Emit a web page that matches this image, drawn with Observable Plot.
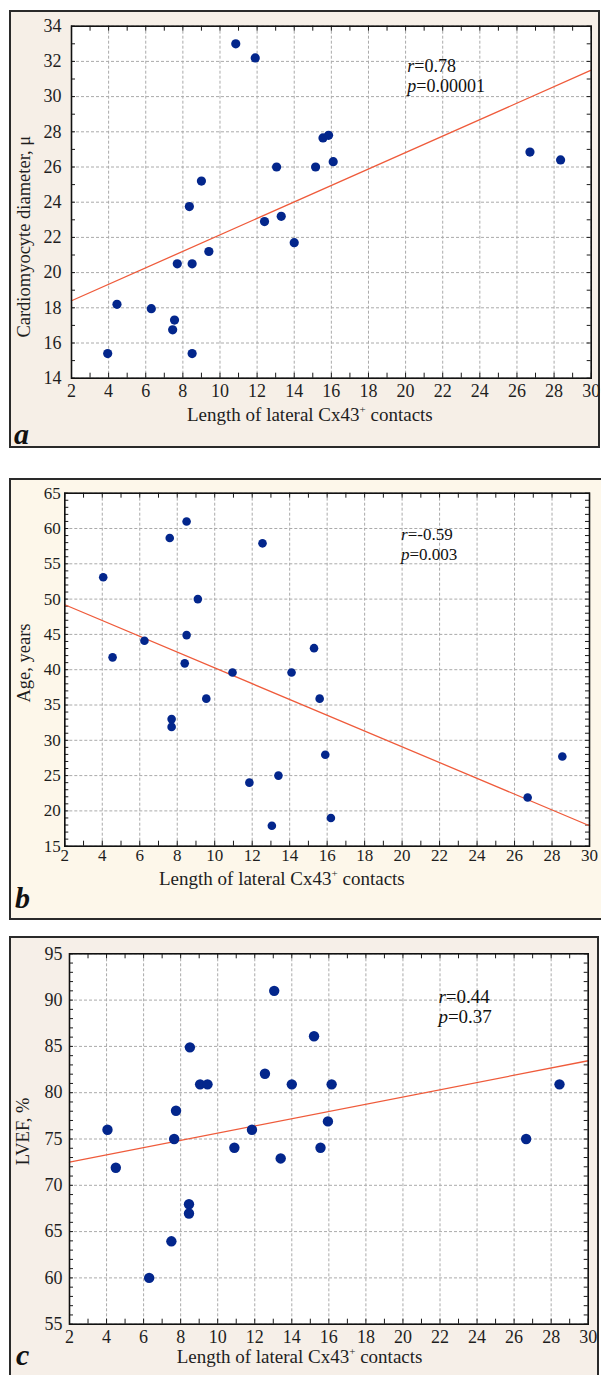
<!DOCTYPE html>
<html><head><meta charset="utf-8">
<script src="https://cdn.jsdelivr.net/npm/d3@7"></script>
<script src="https://cdn.jsdelivr.net/npm/@observablehq/plot@0.6"></script>
<style>
body{margin:0;background:#fff;}
#page{position:relative;width:601px;height:1375px;overflow:hidden;background:#fff;}
.frame{position:absolute;box-sizing:border-box;border:2px solid #2a2a2a;}
.plot{position:absolute;left:0;}
</style></head><body><div id="page"></div>
<script>
// ---------- data ----------
const xTicks = [2,4,6,8,10,12,14,16,18,20,22,24,26,28,30];
const xLabel = "Length of lateral Cx43";

// panel a
const lengthA = [10.85, 11.9, 13.05, 9.0, 8.35, 13.3, 12.4, 9.4, 7.7, 8.5, 14.0, 4.45, 6.3, 7.55, 7.45, 3.95, 8.5, 15.55, 15.85, 15.15, 16.1, 26.7, 28.35];
const diameterA = [33.0, 32.2, 26.0, 25.2, 23.75, 23.2, 22.9, 21.2, 20.5, 20.5, 21.7, 18.2, 17.95, 17.3, 16.75, 15.4, 15.4, 27.65, 27.8, 26.0, 26.3, 26.85, 26.4];
const yTicksA = [14,16,18,20,22,24,26,28,30,32,34];
const fitXA = [2, 30], fitYA = [18.4, 31.5];
const statsA = {r: "0.78", p: "0.00001", x: 20.12, y: 31.39};

// panel b
const lengthB = [4.05, 7.6, 8.5, 12.55, 9.1, 4.55, 6.25, 8.5, 8.4, 10.95, 14.1, 9.55, 7.7, 7.7, 11.85, 13.4, 13.05, 15.3, 15.6, 15.9, 16.2, 26.7, 28.55];
const ageB = [53.1, 58.65, 61.0, 57.9, 50.0, 41.75, 44.1, 44.9, 40.9, 39.6, 39.6, 35.9, 33.0, 31.9, 24.0, 25.0, 17.9, 43.05, 35.9, 27.95, 19.0, 21.9, 27.7];
const yTicksB = [15,20,25,30,35,40,45,50,55,60,65];
const fitXB = [2, 30], fitYB = [49.2, 17.9];
const statsB = {r: "-0.59", p: "0.003", x: 19.97, y: 58.3};

// panel c
const lengthC = [4.05, 13.05, 8.5, 9.05, 9.45, 12.55, 14.0, 7.75, 7.65, 11.85, 10.9, 13.4, 4.5, 8.45, 8.45, 7.5, 6.3, 15.2, 16.15, 15.95, 15.55, 26.65, 28.45];
const lvefC = [76.0, 91.0, 84.9, 80.9, 80.9, 82.05, 80.9, 78.05, 75.0, 76.0, 74.05, 72.9, 71.9, 67.95, 66.95, 63.95, 60.0, 86.1, 80.9, 76.9, 74.05, 75.0, 80.9];
const yTicksC = [55,60,65,70,75,80,85,90,95];
const fitXC = [2, 30], fitYC = [72.5, 83.45];
const statsC = {r: "0.44", p: "0.37", x: 21.94, y: 89.6};

// ---------- layout ----------
const FONT = "'Liberation Serif','Times New Roman',serif";
const NAVY = "#03268c", RED = "#ef5b3b";

const panels = [
  {letter:"a", xs:lengthA, ys:diameterA, yTicks:yTicksA, fitX:fitXA, fitY:fitYA, stats:statsA,
   yLabel:"Cardiomyocyte diameter, μ",
   top:10, height:438, ml:71, mr:10.3, mt:15.7, mb:70.3, r:4.6, tickFont:18, xPad:6, yPad:10, statFont:18,
   frame:{left:9, width:591, height:438, bg:"#f6efe7"},
   xl:{x:187, y:410.7}, yl:{x:29.5, y:226.7}, lt:{x:14, y:434}},
  {letter:"b", xs:lengthB, ys:ageB, yTicks:yTicksB, fitX:fitXB, fitY:fitYB, stats:statsB,
   yLabel:"Age, years",
   top:478, height:442, ml:64.3, mr:12, mt:14.7, mb:74.3, r:4.3, tickFont:17, xPad:3, yPad:4, statFont:17,
   frame:{left:9, width:600, height:442, bg:"#fdf7ea"},
   xl:{x:159, y:407}, yl:{x:29.5, y:185}, lt:{x:15, y:430}},
  {letter:"c", xs:lengthC, ys:lvefC, yTicks:yTicksC, fitX:fitXC, fitY:fitYC, stats:statsC,
   yLabel:"LVEF, %",
   top:936, height:439, ml:69, mr:13.3, mt:17.3, mb:51.3, r:5.2, tickFont:18, xPad:6, yPad:7, statFont:19,
   frame:{left:9, width:590, height:445, bg:"#f6efe8"},
   xl:{x:176.7, y:426.7}, yl:{x:28.5, y:195.5}, lt:{x:16, y:429}}
];

const page = document.getElementById("page");

for (const P of panels) {
  const fr = document.createElement("div");
  fr.className = "frame";
  Object.assign(fr.style, {left:P.frame.left+"px", top:P.top+"px", width:P.frame.width+"px", height:P.frame.height+"px", background:P.frame.bg});
  page.appendChild(fr);

  const pts = P.xs.map((x,i)=>({x, y:P.ys[i]}));
  const fit = P.fitX.map((x,i)=>({x, y:P.fitY[i]}));
  const yd = [P.yTicks[0], P.yTicks[P.yTicks.length-1]];
  const xMinor = d3.range(xTicks[0], xTicks[xTicks.length-1]+0.001, 1);
  const yMinor = d3.range(yd[0], yd[1]+0.001, 1);
  const innerW = 601 - P.ml - P.mr, innerH = P.height - P.mt - P.mb;
  const tickColor = "#1a1a1a";

  const plot = Plot.plot({
    width:601, height:P.height,
    marginLeft:P.ml, marginRight:P.mr, marginTop:P.mt, marginBottom:P.mb,
    x:{domain:[xTicks[0], xTicks[xTicks.length-1]]},
    y:{domain:yd},
    style:{fontFamily:FONT, background:"transparent", color:"#1e1e1e", fontSize:P.tickFont+"px", overflow:"visible"},
    marks:[
      Plot.frame({fill:"white"}),
      Plot.gridX(xTicks, {stroke:"#aaaaaa", strokeOpacity:1, strokeDasharray:"3,2", strokeWidth:1}),
      Plot.gridY(P.yTicks, {stroke:"#aaaaaa", strokeOpacity:1, strokeDasharray:"3,2", strokeWidth:1}),
      Plot.tickX(xMinor, {x:d=>d, insetTop:innerH-5, stroke:tickColor}),
      Plot.tickX(xMinor, {x:d=>d, insetBottom:innerH-5, stroke:tickColor}),
      Plot.tickY(yMinor, {y:d=>d, insetRight:innerW-4, stroke:tickColor}),
      Plot.tickY(yMinor, {y:d=>d, insetLeft:innerW-4, stroke:tickColor}),
      Plot.line(fit, {x:"x", y:"y", stroke:RED, strokeWidth:1.3}),
      Plot.dot(pts, {x:"x", y:"y", r:P.r, fill:NAVY}),
      Plot.frame({stroke:"#111", strokeWidth:1.6}),
      Plot.axisX(xTicks, {tickSize:0, tickPadding:P.xPad, fontSize:P.tickFont, label:null}),
      Plot.axisY(P.yTicks, {tickSize:0, tickPadding:P.yPad, fontSize:P.tickFont, label:null})
    ]
  });
  plot.classList.add("plot");
  plot.style.top = P.top + "px";
  page.appendChild(plot);

  const svg = d3.select(plot);
  const sx = plot.scale("x"), sy = plot.scale("y");

  // r / p annotation
  const ax = sx.apply(P.stats.x), ay = sy.apply(P.stats.y);
  const t1 = svg.append("text").attr("x", ax).attr("y", ay).attr("text-anchor", "start")
    .attr("font-family", FONT).attr("font-size", P.statFont).attr("fill", "#111");
  t1.append("tspan").attr("font-style","italic").text("r");
  t1.append("tspan").text("=" + P.stats.r);
  const t2 = svg.append("text").attr("x", ax).attr("y", ay + 20).attr("text-anchor", "start")
    .attr("font-family", FONT).attr("font-size", P.statFont).attr("fill", "#111");
  t2.append("tspan").attr("font-style","italic").text("p");
  t2.append("tspan").text("=" + P.stats.p);

  // x label with superscript
  const xl = svg.append("text").attr("x", P.xl.x).attr("y", P.xl.y).attr("text-anchor", "start")
    .attr("font-family", FONT).attr("font-size", 19).attr("fill", "#1e1e1e");
  xl.append("tspan").text(xLabel);
  xl.append("tspan").attr("font-size", 11).attr("dy", -8).text("+");
  xl.append("tspan").attr("dy", 8).text(" contacts");

  // y label
  svg.append("text")
    .attr("transform", `translate(${P.yl.x},${P.yl.y}) rotate(-90)`)
    .attr("text-anchor", "middle")
    .attr("font-family", FONT).attr("font-size", 18.5).attr("fill", "#1e1e1e")
    .text(P.yLabel);

  // panel letter
  svg.append("text").attr("x", P.lt.x).attr("y", P.lt.y).attr("text-anchor", "start")
    .attr("font-family", FONT).attr("font-size", 30).attr("font-weight", "bold").attr("font-style", "italic")
    .attr("fill", "#111").text(P.letter);
}
</script>
</body></html>
